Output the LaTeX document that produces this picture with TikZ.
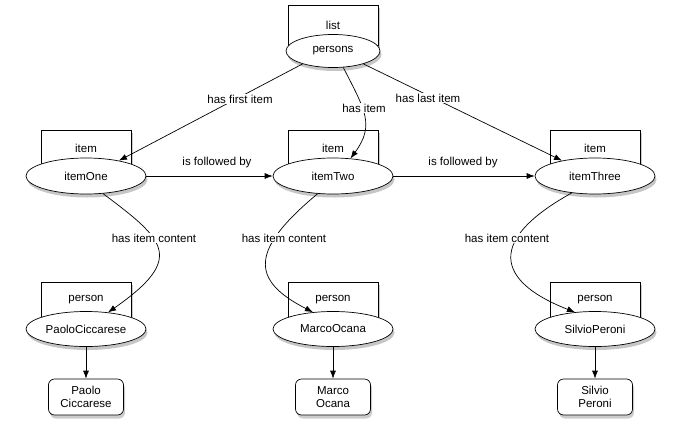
\documentclass[tikz,border=0pt]{standalone}
\usepackage{fontspec}
\setmainfont{Liberation Sans}
\usetikzlibrary{shapes.geometric, arrows.meta, positioning, shadows}

\begin{document}
\begin{tikzpicture}[
    x=1pt, y=-1pt,
    every node/.style={font=\fontsize{11.5}{13}\selectfont},
    typebox/.style={rectangle, draw, fill=white, minimum width=90pt, minimum height=36pt, inner sep=0pt,
        drop shadow={shadow xshift=2pt, shadow yshift=-2.5pt, opacity=0.4}},
    res/.style={ellipse, draw, fill=white, minimum width=120pt, minimum height=36pt, inner sep=0pt,
        drop shadow={shadow xshift=1.5pt, shadow yshift=-3.5pt, opacity=0.45}},
    literal/.style={rectangle, draw, fill=white, rounded corners=6pt, minimum width=75pt, minimum height=36pt,
        align=center, inner sep=0pt, drop shadow={shadow xshift=1.5pt, shadow yshift=-3.5pt, opacity=0.4}},
    arrow/.style={-{Latex[length=8pt,width=6pt]}},
    elabel/.style={fill=white, inner sep=1pt},
    line width=0.7pt
]
\useasboundingbox (0,0) rectangle (684,434);

% list
\node[typebox, minimum height=40pt] (listT) at (333,25) {list};
\node[res, minimum width=94pt, minimum height=33pt] (persons) at (333,51) {persons};

% items
\node[typebox] (itemOneT) at (86,148) {item};
\node[res] (itemOne) at (86,176) {itemOne};
\node[typebox] (itemTwoT) at (333,148) {item};
\node[res] (itemTwo) at (333,176) {itemTwo};
\node[typebox] (itemThreeT) at (595,148) {item};
\node[res] (itemThree) at (595,176) {itemThree};

% persons
\node[typebox] (paoloT) at (86,300) {person};
\node[res, minimum height=35pt] (paolo) at (86,329) {PaoloCiccarese};
\node[typebox] (marcoT) at (333,300) {person};
\node[res, minimum height=35pt] (marco) at (333,329) {MarcoOcana};
\node[typebox] (silvioT) at (595,300) {person};
\node[res, minimum height=35pt] (silvio) at (595,329) {SilvioPeroni};

% names
\node[literal] (paoloL) at (86,397) {Paolo\\Ciccarese};
\node[literal] (marcoL) at (333,397) {Marco\\Ocana};
\node[literal] (silvioL) at (595,397) {Silvio\\Peroni};

% edges
\draw[arrow] (persons.-157) -- (itemOne.25);
\draw[arrow] (persons.-58) .. controls (365,110) and (375,125) .. (itemTwo.45);
\draw[arrow] (persons.-23) -- (itemThree.155);
\draw[arrow] (itemOne) -- (itemTwo);
\draw[arrow] (itemTwo) -- (itemThree);
\draw[arrow] (itemOne.-46) .. controls (165,240) and (186,258) .. (paolo.37);
\draw[arrow] (itemTwo.-131) .. controls (250,250) and (250,280) .. (marco.140);
\draw[arrow] (itemThree.-144) .. controls (478,245) and (505,285) .. (silvio.140);
\draw[arrow] (paolo) -- (paoloL);
\draw[arrow] (marco) -- (marcoL);
\draw[arrow] (silvio) -- (silvioL);

% edge labels
\node[elabel] (lFirst) at (240,99) {has first item};
\node[elabel] (lItem) at (364,108) {has item};
\node[elabel] (lLast) at (428,98) {has last item};
\node[elabel] (lNext1) at (217,163) {is followed by};
\node[elabel] (lNext2) at (463,163) {is followed by};
\node[elabel] (lCont1) at (154,238) {has item content};
\node[elabel] (lCont2) at (284,238) {has item content};
\node[elabel] (lCont3) at (507,238) {has item content};
\end{tikzpicture}
\end{document}
